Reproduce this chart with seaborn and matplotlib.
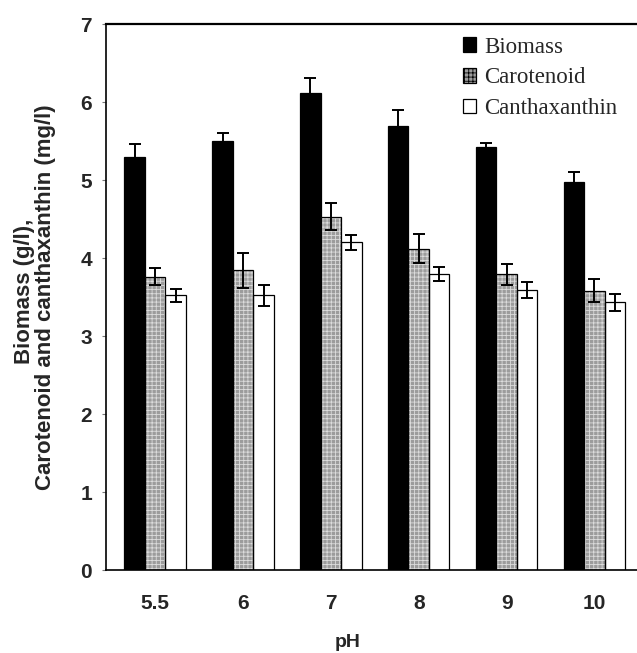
import matplotlib
matplotlib.use("Agg")
import matplotlib.pyplot as plt
import seaborn as sns
import pandas as pd
import numpy as np
from matplotlib.patches import Rectangle

ph_labels = ["5.5", "6", "7", "8", "9", "10"]
series_names = ["Biomass", "Carotenoid", "Canthaxanthin"]
biomass = [5.30, 5.50, 6.12, 5.69, 5.42, 4.97]
biomass_err = [0.16, 0.10, 0.19, 0.21, 0.06, 0.13]
carotenoid = [3.76, 3.84, 4.53, 4.12, 3.79, 3.58]
carotenoid_err = [0.11, 0.22, 0.17, 0.19, 0.13, 0.15]
canthaxanthin = [3.52, 3.52, 4.20, 3.79, 3.59, 3.43]
canthaxanthin_err = [0.08, 0.13, 0.10, 0.09, 0.10, 0.11]
ylabel_lines = ["Biomass (g/l),", "Carotenoid and canthaxanthin (mg/l)"]

df = pd.DataFrame({
    "pH": ph_labels * 3,
    "series": np.repeat(series_names, len(ph_labels)),
    "value": biomass + carotenoid + canthaxanthin,
})
errs = [biomass_err, carotenoid_err, canthaxanthin_err]

sns.set_style("white")
plt.rcParams["font.family"] = ["Liberation Sans", "DejaVu Sans"]
plt.rcParams["hatch.linewidth"] = 0.6

fig = plt.figure(figsize=(6.37, 6.53), dpi=100)
W, H = 637, 653
ax = fig.add_axes([106 / W, (H - 570) / H, (641 - 106) / W, (570 - 24) / H])

car_face = "#9c9c9c"
palette = {"Biomass": "black", "Carotenoid": car_face, "Canthaxanthin": "white"}
sns.barplot(data=df, x="pH", y="value", hue="series", order=ph_labels,
            hue_order=series_names, palette=palette, width=0.7, gap=0,
            errorbar=None, edgecolor="black", linewidth=0.9, saturation=1,
            ax=ax, legend=False)

# dotted texture for carotenoid bars
for bar in ax.containers[1]:
    bar.set_hatch("++++")
    bar.set_edgecolor("#dcdcdc")
    bar.set_linewidth(0)
    ax.add_patch(Rectangle(bar.get_xy(), bar.get_width(), bar.get_height(),
                           fill=False, edgecolor="black", linewidth=0.9,
                           zorder=bar.get_zorder() + 0.1))

for cont, e in zip(ax.containers, errs):
    xs = [b.get_x() + b.get_width() / 2 for b in cont]
    hs = [b.get_height() for b in cont]
    ax.errorbar(xs, hs, yerr=e, fmt="none", ecolor="black", elinewidth=1.4,
                capsize=4.5, capthick=1.4, zorder=5)

ax.set_ylim(0, 7)
ax.set_yticks(range(0, 8))
ax.set_xlim(-0.56, 5.53)

for s in ["left", "top", "bottom"]:
    ax.spines[s].set_color("black")
ax.spines["left"].set_linewidth(1.2)
ax.spines["top"].set_linewidth(1.6)
ax.spines["bottom"].set_linewidth(1.2)
ax.spines["right"].set_visible(False)

ax.tick_params(axis="y", left=True, length=3, width=0.8, color="#777777", pad=7,
               labelsize=15)
ax.tick_params(axis="x", bottom=False, length=0, pad=17, labelsize=15)
for lab in ax.get_xticklabels() + ax.get_yticklabels():
    lab.set_fontweight("bold")

ax.set_xlabel("pH", fontsize=14, fontweight="bold")
ax.xaxis.set_label_coords(0.451, -0.117)
ax.set_ylabel("")

# two-line y label, each line placed as in the reference
fig.text(24.5 / W, 1 - 291 / H, ylabel_lines[0], rotation=90, ha="center", va="center",
         fontsize=16, fontweight="bold")
fig.text(45.5 / W, 1 - 297 / H, ylabel_lines[1], rotation=90, ha="center", va="center",
         fontsize=16, fontweight="bold")

handles = [
    Rectangle((0, 0), 1, 1, facecolor="black", edgecolor="black", linewidth=0.9),
    Rectangle((0, 0), 1, 1, facecolor=car_face, edgecolor="black", linewidth=0.9, hatch="++++"),
    Rectangle((0, 0), 1, 1, facecolor="white", edgecolor="black", linewidth=0.9),
]
leg = ax.legend(handles, series_names, loc="upper left", bbox_to_anchor=(0.658, 0.985),
                frameon=False, prop={"family": "Liberation Serif", "size": 16.5},
                handlelength=0.6, handleheight=0.6, handletextpad=0.35,
                labelspacing=0.42, borderaxespad=0, borderpad=0.2)

fig.savefig("out.png", dpi=100)
